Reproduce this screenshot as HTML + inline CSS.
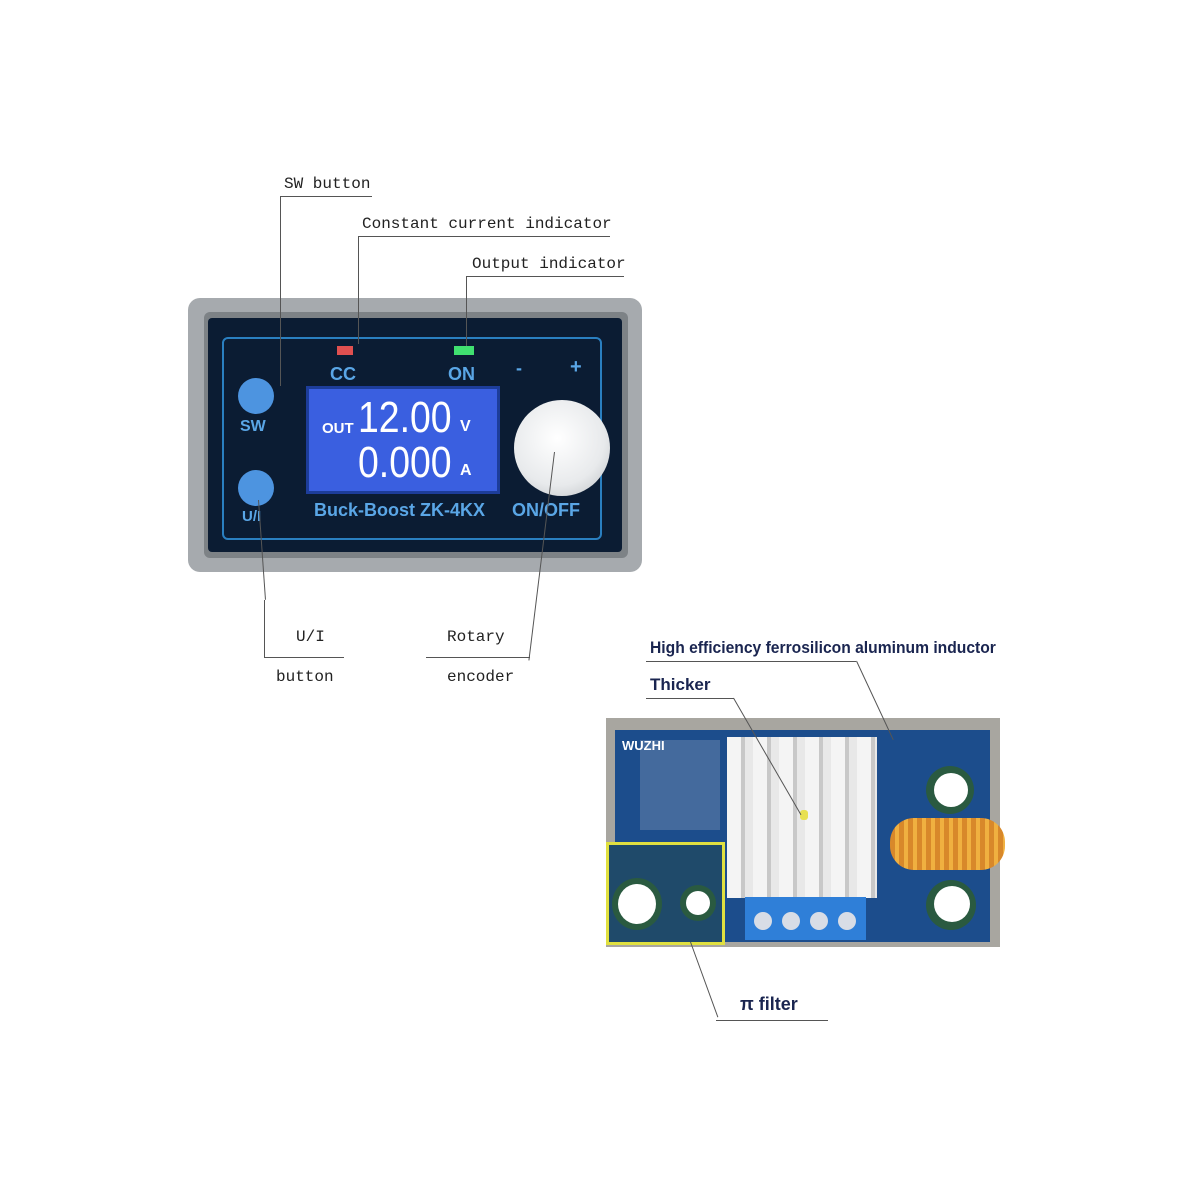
<!DOCTYPE html>
<html><head><style>
body{margin:0;width:1200px;height:1200px;background:#fff;position:relative;overflow:hidden;font-family:"Liberation Mono",monospace}
.a{position:absolute}
.t{position:absolute;font-size:16px;color:#222;white-space:nowrap}
.l{position:absolute;background:#555}
</style></head><body>
<div class="a" style="left:188px;top:298px;width:454px;height:274px;background:#a6aaae;border-radius:12px"></div>
<div class="a" style="left:204px;top:312px;width:424px;height:246px;background:#7d8286;border-radius:6px"></div>
<div class="a" style="left:208px;top:318px;width:414px;height:234px;background:#0b1c33;border-radius:4px"></div>
<div class="a" style="left:222px;top:337px;width:376px;height:199px;border:2px solid #2a7fc0;border-radius:6px"></div>
<div class="a" style="left:306px;top:386px;width:194px;height:108px;background:#3a5fe0;border:3px solid #1d3d9a;box-sizing:border-box"></div>
<div class="a" style="left:322px;top:420px;color:#fff;font:bold 15px 'Liberation Sans',sans-serif">OUT</div>
<div class="a" style="left:358px;top:393px;color:#fff;font:44px 'Liberation Sans',sans-serif;transform:scaleX(.85);transform-origin:left">12.00</div>
<div class="a" style="left:460px;top:418px;color:#fff;font:bold 16px 'Liberation Sans',sans-serif">V</div>
<div class="a" style="left:358px;top:438px;color:#fff;font:44px 'Liberation Sans',sans-serif;transform:scaleX(.85);transform-origin:left">0.000</div>
<div class="a" style="left:460px;top:462px;color:#fff;font:bold 16px 'Liberation Sans',sans-serif">A</div>
<div class="a" style="left:238px;top:378px;width:36px;height:36px;border-radius:50%;background:#4d94e0"></div>
<div class="a" style="left:238px;top:470px;width:36px;height:36px;border-radius:50%;background:#4d94e0"></div>
<div class="a" style="left:240px;top:418px;color:#5aa6e6;font:bold 16px 'Liberation Sans',sans-serif">SW</div>
<div class="a" style="left:242px;top:508px;color:#5aa6e6;font:bold 15px 'Liberation Sans',sans-serif">U/I</div>
<div class="a" style="left:337px;top:346px;width:16px;height:9px;background:#e05050"></div>
<div class="a" style="left:454px;top:346px;width:20px;height:9px;background:#40e070"></div>
<div class="a" style="left:330px;top:364px;color:#5aa6e6;font:bold 18px 'Liberation Sans',sans-serif">CC</div>
<div class="a" style="left:448px;top:364px;color:#5aa6e6;font:bold 18px 'Liberation Sans',sans-serif">ON</div>
<div class="a" style="left:516px;top:358px;color:#5aa6e6;font:bold 18px 'Liberation Sans',sans-serif">‑</div>
<div class="a" style="left:570px;top:356px;color:#5aa6e6;font:bold 20px 'Liberation Sans',sans-serif">+</div>
<div class="a" style="left:314px;top:500px;color:#5aa6e6;font:bold 18px 'Liberation Sans',sans-serif">Buck-Boost ZK-4KX</div>
<div class="a" style="left:512px;top:500px;color:#5aa6e6;font:bold 18px 'Liberation Sans',sans-serif">ON/OFF</div>
<div class="a" style="left:514px;top:400px;width:96px;height:96px;border-radius:50%;background:radial-gradient(circle at 45% 40%,#fff,#e8eaec 60%,#b8bcc0)"></div>
<div class="t" style="left:284px;top:175px">SW button</div>
<div class="l" style="left:280px;top:196px;width:92px;height:1px"></div>
<div class="l" style="left:280px;top:196px;width:1px;height:190px"></div>
<div class="t" style="left:362px;top:215px">Constant current indicator</div>
<div class="l" style="left:358px;top:236px;width:252px;height:1px"></div>
<div class="l" style="left:358px;top:236px;width:1px;height:108px"></div>
<div class="t" style="left:472px;top:255px">Output indicator</div>
<div class="l" style="left:466px;top:276px;width:158px;height:1px"></div>
<div class="l" style="left:466px;top:276px;width:1px;height:70px"></div>
<div class="l" style="left:258px;top:500px;width:1px;height:100px;transform:rotate(-4deg);transform-origin:top"></div>
<div class="l" style="left:264px;top:600px;width:1px;height:58px"></div>
<div class="l" style="left:264px;top:657px;width:80px;height:1px"></div>
<div class="t" style="left:296px;top:628px">U/I</div>
<div class="t" style="left:276px;top:668px">button</div>
<div class="l" style="left:426px;top:657px;width:104px;height:1px"></div>
<div class="l" style="left:554px;top:452px;width:1px;height:210px;transform:rotate(7deg);transform-origin:top"></div>
<div class="t" style="left:447px;top:628px">Rotary</div>
<div class="t" style="left:447px;top:668px">encoder</div>
<div class="a" style="left:650px;top:638px;color:#1a2550;font:bold 17px 'Liberation Sans',sans-serif;transform:scaleX(.92);transform-origin:left">High efficiency ferrosilicon aluminum inductor</div>
<div class="l" style="left:646px;top:661px;width:210px;height:1px"></div>
<div class="a" style="left:650px;top:675px;color:#1a2550;font:bold 17px 'Liberation Sans',sans-serif">Thicker</div>
<div class="l" style="left:646px;top:698px;width:88px;height:1px"></div>
<div class="a" style="left:606px;top:718px;width:394px;height:229px;background:#a8a6a0"></div>
<div class="a" style="left:615px;top:730px;width:375px;height:212px;background:#1c4d8c"></div>
<div class="a" style="left:640px;top:740px;width:80px;height:90px;background:#5f7ea8;opacity:.6"></div>
<div class="a" style="left:727px;top:737px;width:150px;height:161px;background:repeating-linear-gradient(90deg,#f4f4f4 0 14px,#c8c8c8 14px 18px,#e8e8e8 18px 26px)"></div>
<div class="a" style="left:745px;top:897px;width:121px;height:43px;background:#2f7fd8"></div>
<div class="a" style="left:754px;top:912px;width:18px;height:18px;border-radius:50%;background:#d8dde6"></div>
<div class="a" style="left:782px;top:912px;width:18px;height:18px;border-radius:50%;background:#d8dde6"></div>
<div class="a" style="left:810px;top:912px;width:18px;height:18px;border-radius:50%;background:#d8dde6"></div>
<div class="a" style="left:838px;top:912px;width:18px;height:18px;border-radius:50%;background:#d8dde6"></div>
<div class="a" style="left:890px;top:818px;width:115px;height:52px;border-radius:24px;background:repeating-linear-gradient(90deg,#d8882a 0 5px,#f0b040 5px 9px)"></div>
<div class="a" style="left:926px;top:766px;width:48px;height:48px;border-radius:50%;background:#2a5a40"></div>
<div class="a" style="left:934px;top:773px;width:34px;height:34px;border-radius:50%;background:#fff"></div>
<div class="a" style="left:926px;top:880px;width:50px;height:50px;border-radius:50%;background:#2a5a40"></div>
<div class="a" style="left:934px;top:886px;width:36px;height:36px;border-radius:50%;background:#fff"></div>
<div class="a" style="left:606px;top:842px;width:113px;height:97px;border:3px solid #e0e040;background:#1f4a6a"></div>
<div class="a" style="left:612px;top:878px;width:50px;height:52px;border-radius:50%;background:#2a5a40"></div>
<div class="a" style="left:618px;top:884px;width:38px;height:40px;border-radius:50%;background:#fff"></div>
<div class="a" style="left:680px;top:885px;width:36px;height:36px;border-radius:50%;background:#2a5a40"></div>
<div class="a" style="left:686px;top:891px;width:24px;height:24px;border-radius:50%;background:#fff"></div>
<div class="a" style="left:800px;top:810px;width:8px;height:10px;background:#e8e050;border-radius:3px"></div>
<div class="a" style="left:622px;top:738px;color:#fff;font:bold 13px 'Liberation Sans',sans-serif">WUZHI</div>
<div class="l" style="left:733px;top:698px;width:1px;height:135px;transform:rotate(-30deg);transform-origin:top"></div>
<div class="l" style="left:856px;top:661px;width:1px;height:87px;transform:rotate(-25deg);transform-origin:top"></div>
<div class="l" style="left:690px;top:942px;width:1px;height:80px;transform:rotate(-20deg);transform-origin:top"></div>
<div class="l" style="left:716px;top:1020px;width:112px;height:1px"></div>
<div class="a" style="left:740px;top:994px;color:#1a2550;font:bold 18px 'Liberation Sans',sans-serif">π filter</div>
</body></html>
